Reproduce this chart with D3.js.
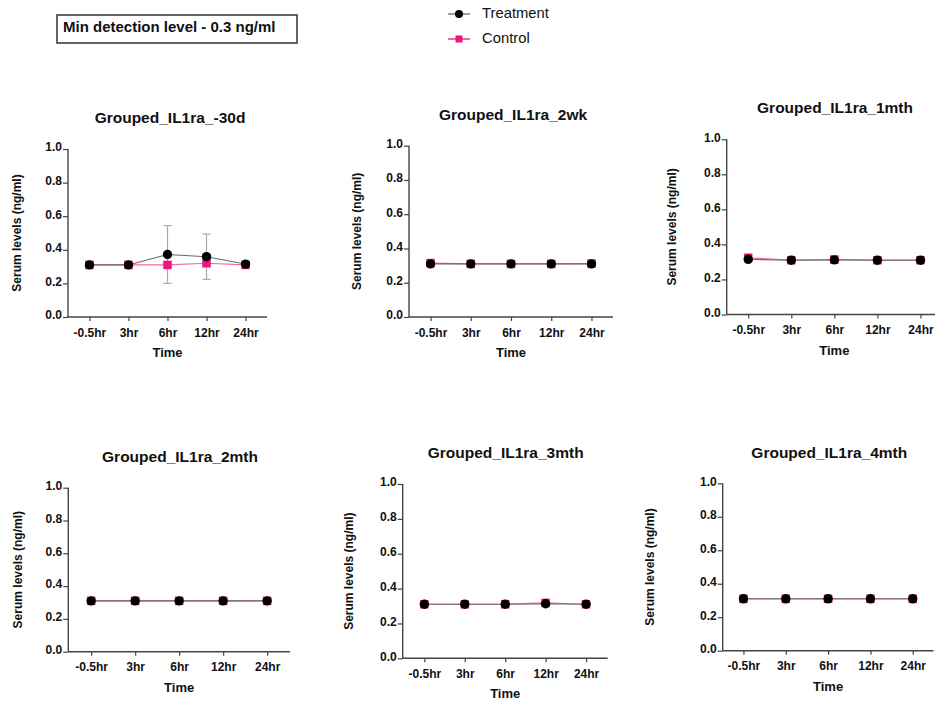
<!doctype html>
<html>
<head>
<meta charset="utf-8">
<title>Grouped IL1ra</title>
<script src="https://cdn.jsdelivr.net/npm/d3@7"></script>
<style>
  body { margin: 0; background: #fff; }
  svg text { font-family: "Liberation Sans", Arial, Helvetica, sans-serif; }
</style>
</head>
<body>
<div id="main"></div>
<script>
// ---- data ----
var timepoints = ['-0.5hr', '3hr', '6hr', '12hr', '24hr'];
var panelTitles = ['Grouped_IL1ra_-30d', 'Grouped_IL1ra_2wk', 'Grouped_IL1ra_1mth',
                   'Grouped_IL1ra_2mth', 'Grouped_IL1ra_3mth', 'Grouped_IL1ra_4mth'];
var treatmentMeans = [
  [0.31, 0.31, 0.372, 0.359, 0.315],
  [0.31, 0.31, 0.31, 0.31, 0.31],
  [0.315, 0.31, 0.312, 0.31, 0.31],
  [0.31, 0.31, 0.31, 0.31, 0.31],
  [0.31, 0.31, 0.31, 0.313, 0.31],
  [0.31, 0.31, 0.31, 0.31, 0.31]
];
var controlMeans = [
  [0.31, 0.31, 0.31, 0.32, 0.31],
  [0.315, 0.31, 0.31, 0.31, 0.312],
  [0.324, 0.31, 0.314, 0.31, 0.31],
  [0.31, 0.31, 0.31, 0.31, 0.31],
  [0.31, 0.31, 0.31, 0.318, 0.31],
  [0.31, 0.31, 0.31, 0.31, 0.31]
];
var treatmentSD = [
  [0, 0, 0.172, 0.135, 0],
  [0, 0, 0, 0, 0],
  [0, 0, 0, 0, 0],
  [0, 0, 0, 0, 0],
  [0, 0, 0, 0, 0],
  [0, 0, 0, 0, 0]
];
var yTicks = [0, 0.2, 0.4, 0.6, 0.8, 1.0];
var seriesNames = ['Treatment', 'Control'];

// ---- layout (pixel positions of each small plot) ----
var layout = [
  {x0: 68,    x1: 267,   pad: 0.55,  top: 149,   bottom: 317,   titleX: 170,   titleY: 123, labX: 17},
  {x0: 409,   x1: 613,   pad: 0.535, top: 145.7, bottom: 317,   titleX: 513,   titleY: 120, labX: 357},
  {x0: 726.7, x1: 942,   pad: 0.5,   top: 139.3, bottom: 314.5, titleX: 835,   titleY: 113, labX: 671.7},
  {x0: 68.3,  x1: 290,   pad: 0.52,  top: 487.7, bottom: 651.7, titleX: 180,   titleY: 462, labX: 17.3},
  {x0: 402.7, x1: 607.7, pad: 0.535, top: 484,   bottom: 658.3, titleX: 505.7, titleY: 458, labX: 348.3},
  {x0: 722.7, x1: 933.5, pad: 0.49,  top: 483.3, bottom: 650.7, titleX: 829.3, titleY: 458, labX: 650}
];

var pink = '#f0137a';
var pinkLine = '#f56aa6';
var greyLine = '#6a6a6a';
var axisColor = '#444';

var svg = d3.select('#main').append('svg')
  .attr('width', 935)
  .attr('height', 704);

// note box top-left
svg.append('rect')
  .attr('x', 57).attr('y', 15)
  .attr('width', 240).attr('height', 28)
  .attr('fill', '#fff')
  .attr('stroke', '#333')
  .attr('stroke-width', 1.5);
svg.append('text')
  .attr('x', 63).attr('y', 32)
  .attr('font-size', 15)
  .attr('font-weight', 'bold')
  .attr('fill', '#111')
  .text('Min detection level - 0.3 ng/ml');

// legend
var legend = svg.append('g').attr('transform', 'translate(448,0)');
seriesNames.forEach(function(name, i) {
  var ly = i === 0 ? 14 : 39;
  legend.append('line')
    .attr('x1', 0).attr('x2', 22)
    .attr('y1', ly).attr('y2', ly)
    .attr('stroke', i === 0 ? greyLine : pink)
    .attr('stroke-width', 1.3);
  if (i === 0) {
    legend.append('circle').attr('cx', 11).attr('cy', ly).attr('r', 4).attr('fill', '#000');
  } else {
    legend.append('rect').attr('x', 7.5).attr('y', ly - 3.5).attr('width', 7).attr('height', 7).attr('fill', pink);
  }
  legend.append('text')
    .attr('x', 34).attr('y', ly + 4)
    .attr('font-size', 14.8)
    .attr('fill', '#111')
    .text(name);
});

// draw every panel
layout.forEach(function(L, p) {
  drawPanel(L, p);
});

function drawPanel(L, p) {
  var g = svg.append('g');

  var x = d3.scalePoint()
    .domain(timepoints)
    .range([L.x0, L.x1])
    .padding(L.pad);
  var y = d3.scaleLinear()
    .domain([0, 1])
    .range([L.bottom, L.top]);

  // title
  g.append('text')
    .attr('x', L.titleX).attr('y', L.titleY)
    .attr('text-anchor', 'middle')
    .attr('font-size', 15.5)
    .attr('font-weight', 'bold')
    .attr('fill', '#111')
    .text(panelTitles[p]);

  // y axis
  var yAxis = g.append('g')
    .attr('transform', 'translate(' + L.x0 + ',0)')
    .call(d3.axisLeft(y).tickValues(yTicks).tickFormat(d3.format('.1f')).tickSize(5).tickPadding(1));
  // x axis
  var xAxis = g.append('g')
    .attr('transform', 'translate(0,' + L.bottom + ')')
    .call(d3.axisBottom(x).tickSize(4).tickPadding(7).tickSizeOuter(0));

  [yAxis, xAxis].forEach(function(ax) {
    ax.select('.domain').attr('stroke', axisColor).attr('stroke-width', 1.4);
    ax.selectAll('.tick line').attr('stroke', axisColor).attr('stroke-width', 1.2);
    ax.selectAll('.tick text')
      .attr('fill', '#111')
      .attr('font-size', 12)
      .attr('font-weight', 'bold')
      .attr('font-family', '"Liberation Sans", Arial, Helvetica, sans-serif');
  });
  yAxis.selectAll('.tick text').attr('dy', '0.15em');
  // y domain path without the outer ticks
  yAxis.select('.domain').attr('d', 'M0,' + L.bottom + 'V' + L.top);
  xAxis.select('.domain').attr('d', 'M' + L.x0 + ',0H' + L.x1);

  // axis titles
  g.append('text')
    .attr('transform', 'translate(' + L.labX + ',' + ((L.top + L.bottom) / 2) + ') rotate(-90)')
    .attr('text-anchor', 'middle')
    .attr('dy', '0.35em')
    .attr('font-size', 12)
    .attr('font-weight', 'bold')
    .attr('fill', '#111')
    .text('Serum levels (ng/ml)');
  g.append('text')
    .attr('x', (L.x0 + L.x1) / 2)
    .attr('y', L.bottom + 40)
    .attr('text-anchor', 'middle')
    .attr('font-size', 13)
    .attr('font-weight', 'bold')
    .attr('fill', '#111')
    .text('Time');

  var tData = timepoints.map(function(t, i) {
    return {t: t, v: treatmentMeans[p][i], sd: treatmentSD[p][i]};
  });
  var cData = timepoints.map(function(t, i) {
    return {t: t, v: controlMeans[p][i]};
  });

  var line = d3.line()
    .x(function(d) { return x(d.t); })
    .y(function(d) { return y(d.v); });

  // error bars (treatment)
  var eb = g.append('g').selectAll('g')
    .data(tData.filter(function(d) { return d.sd > 0.01; }))
    .enter().append('g')
    .attr('stroke', '#aaa')
    .attr('stroke-width', 1.2);
  eb.append('line')
    .attr('x1', function(d) { return x(d.t); })
    .attr('x2', function(d) { return x(d.t); })
    .attr('y1', function(d) { return y(d.v - d.sd); })
    .attr('y2', function(d) { return y(d.v + d.sd); });
  [-1, 1].forEach(function(s) {
    eb.append('line')
      .attr('x1', function(d) { return x(d.t) - 4; })
      .attr('x2', function(d) { return x(d.t) + 4; })
      .attr('y1', function(d) { return y(d.v + s * d.sd); })
      .attr('y2', function(d) { return y(d.v + s * d.sd); });
  });

  // lines
  g.append('path').datum(cData)
    .attr('d', line)
    .attr('fill', 'none')
    .attr('stroke', pinkLine)
    .attr('stroke-width', 1.2);
  g.append('path').datum(tData)
    .attr('d', line)
    .attr('fill', 'none')
    .attr('stroke', greyLine)
    .attr('stroke-width', 1.1);

  // markers
  g.append('g').selectAll('rect')
    .data(cData).enter().append('rect')
    .attr('x', function(d) { return x(d.t) - 4.25; })
    .attr('y', function(d) { return y(d.v) - 4.25; })
    .attr('width', 8.5).attr('height', 8.5)
    .attr('fill', pink);
  g.append('g').selectAll('circle')
    .data(tData).enter().append('circle')
    .attr('cx', function(d) { return x(d.t); })
    .attr('cy', function(d) { return y(d.v); })
    .attr('r', 4.7)
    .attr('fill', '#000');
}
</script>
</body>
</html>
